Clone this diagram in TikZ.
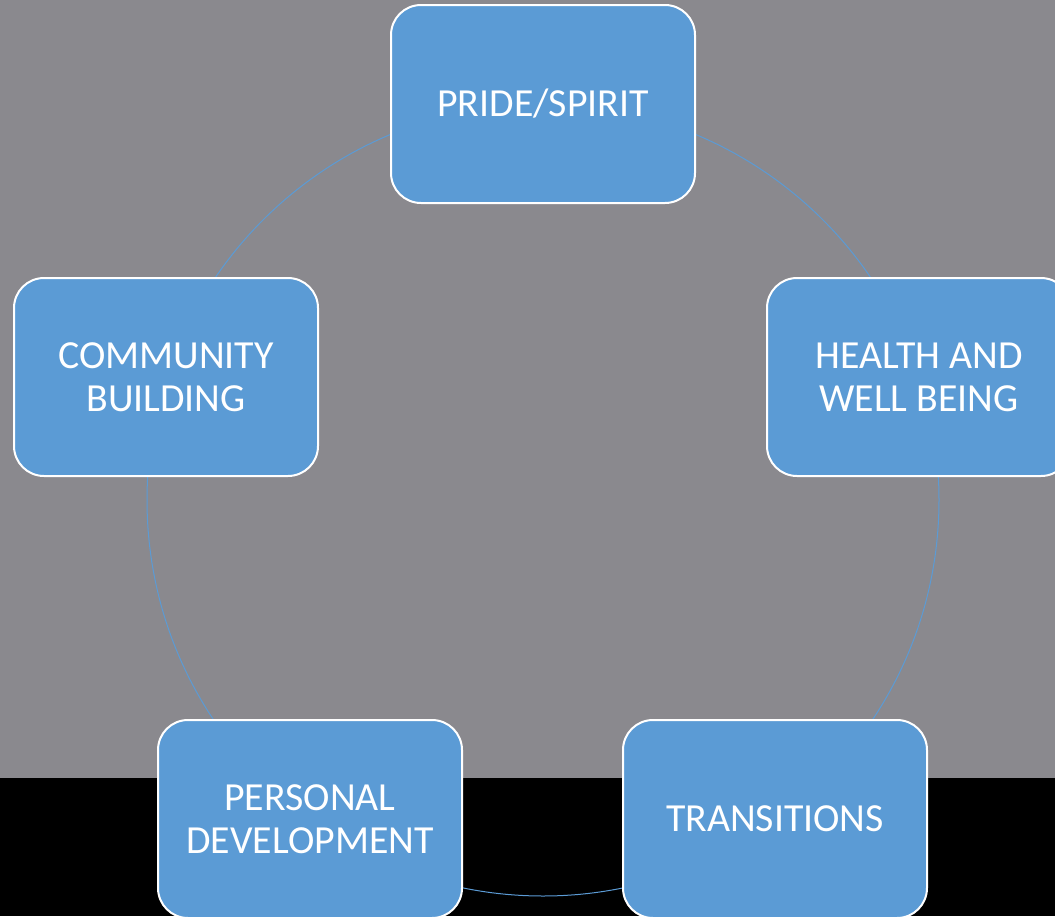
\documentclass[tikz,border=0pt]{standalone}
\usepackage{fontspec}
\setmainfont{Carlito}
\definecolor{bg}{HTML}{8A898E}
\definecolor{boxblue}{HTML}{5B9BD5}
\begin{document}
\begin{tikzpicture}[x=1pt,y=-1pt,
  box/.style={draw=white, line width=2pt, fill=boxblue, rounded corners=30pt,
    minimum width=304pt, minimum height=198pt, text=white,
    font=\fontsize{39.8}{43}\selectfont, align=center, inner sep=0pt},
  ring/.style={draw=boxblue, line width=1pt}]
\useasboundingbox (0,0) rectangle (1055,916);
\fill[bg] (0,0) rectangle (1055,778);
\fill[black] (0,778) rectangle (1055,916);
\coordinate (c) at (543,500);
\draw[ring] (c) circle[radius=396pt];
\node[box] (pride) at (543,104) {PRIDE/SPIRIT};
\node[box] (health) at (919,377) {HEALTH AND\\WELL BEING};
\node[box] (comm) at (166,377) {COMMUNITY\\BUILDING};
\node[box] (pers) at (310,819) {PERSONAL\\DEVELOPMENT};
\node[box] (trans) at (775,819) {TRANSITIONS};
\end{tikzpicture}
\end{document}
